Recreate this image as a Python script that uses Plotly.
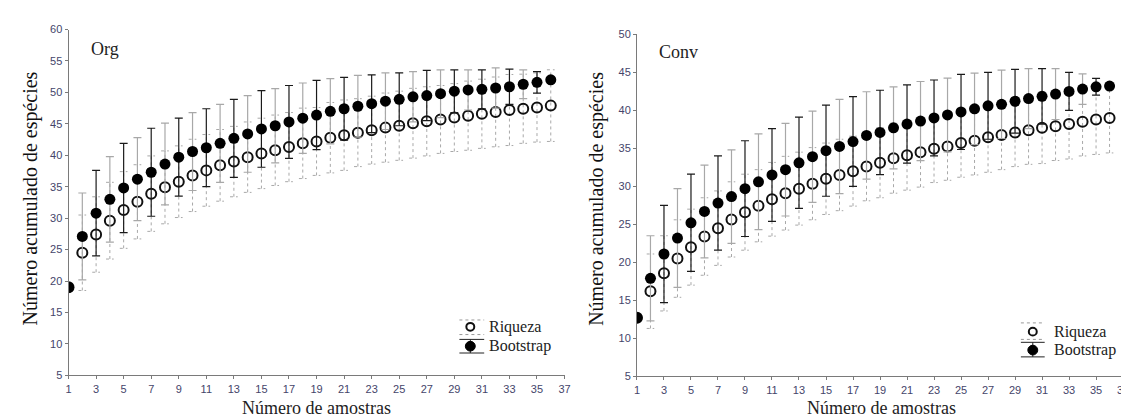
import plotly.graph_objects as go

# ---------------- data ----------------
amostras = list(range(1, 37))

org_boot = [19.0, 27.1, 30.8, 33.0, 34.8, 36.2, 37.3, 38.6, 39.7, 40.6, 41.2, 41.9,
            42.7, 43.4, 44.2, 44.7, 45.3, 45.9, 46.4, 47.0, 47.4, 47.8, 48.2, 48.6,
            48.9, 49.3, 49.5, 49.8, 50.2, 50.4, 50.5, 50.7, 50.9, 51.3, 51.6, 52.0]
org_boot_err = [0, 6.9, 6.8, 6.8, 7.1, 6.6, 7.0, 6.5, 6.2, 6.2, 6.2, 6.2,
                6.2, 6.1, 6.1, 5.9, 5.8, 5.6, 5.5, 5.2, 5.0, 4.9, 4.6, 4.5,
                4.2, 4.0, 4.0, 3.8, 3.4, 3.2, 3.1, 3.2, 2.8, 2.3, 1.7, 0]
org_rich = [19.0, 24.5, 27.4, 29.6, 31.3, 32.6, 33.9, 34.9, 35.8, 36.8, 37.6, 38.4,
            39.0, 39.7, 40.3, 40.8, 41.3, 41.9, 42.2, 42.8, 43.2, 43.6, 44.0, 44.4,
            44.7, 45.1, 45.4, 45.7, 46.0, 46.3, 46.6, 46.9, 47.2, 47.4, 47.6, 47.9]
org_rich_err = [0, 6.0, 6.0, 6.1, 6.1, 5.9, 6.0, 5.8, 5.7, 5.75, 5.7, 5.7,
                5.6, 5.6, 5.6, 5.6, 5.5, 5.6, 5.4, 5.6, 5.6, 5.4, 5.4, 5.5,
                5.5, 5.55, 5.5, 5.4, 5.4, 5.5, 5.5, 5.55, 5.65, 5.5, 5.5, 5.7]

conv_boot = [12.7, 17.9, 21.1, 23.2, 25.2, 26.7, 27.8, 28.65, 29.7, 30.6, 31.5, 32.2,
             33.1, 33.9, 34.7, 35.25, 35.9, 36.7, 37.1, 37.7, 38.2, 38.6, 39.0, 39.4,
             39.8, 40.2, 40.6, 40.8, 41.2, 41.55, 41.85, 42.15, 42.5, 42.8, 43.1, 43.2]
conv_boot_err = [0, 5.6, 6.4, 6.5, 6.4, 6.1, 6.2, 6.15, 6.3, 6.3, 6.1, 6.1,
                 6.0, 6.0, 6.0, 6.2, 5.9, 5.75, 5.55, 5.4, 5.15, 5.2, 5.0, 4.85,
                 4.95, 4.7, 4.4, 4.5, 4.2, 3.95, 3.65, 3.35, 2.5, 2.0, 1.1, 0]
conv_rich = [12.7, 16.2, 18.55, 20.5, 22.0, 23.4, 24.5, 25.65, 26.6, 27.45, 28.3, 29.1,
             29.7, 30.35, 31.0, 31.5, 32.0, 32.6, 33.1, 33.7, 34.1, 34.5, 34.95, 35.25,
             35.7, 36.0, 36.45, 36.75, 37.1, 37.4, 37.7, 37.9, 38.2, 38.5, 38.8, 39.0]
conv_rich_err = [0, 4.9, 4.95, 5.1, 5.0, 5.1, 4.9, 4.95, 5.0, 4.75, 4.85, 4.85,
                 4.8, 4.75, 4.7, 4.7, 4.6, 4.5, 4.6, 4.6, 4.6, 4.6, 4.45, 4.45,
                 4.5, 4.5, 4.6, 4.55, 4.5, 4.5, 4.7, 4.5, 4.6, 4.5, 4.6, 4.6]

x_ticks = list(range(1, 38, 2))
panel_titles = ["Org", "Conv"]
legend_names = ["Riqueza", "Bootstrap"]
x_title = "Número de amostras"
y_title = "Número acumulado de espécies"

# ---------------- figure ----------------
W, H = 1129, 419
SERIF = "Liberation Serif, Times New Roman, serif"
SANS = "Liberation Sans, Arial, sans-serif"
TICK_COLOR = "#45456a"

fig = go.Figure()


def px_x(p):
    return p / W


def px_y(p):
    return 1 - p / H


def add_panel(xa, ya, rich, rich_err, boot, boot_err):
    # dotted error bars for Riqueza
    xs, ys = [], []
    cap = 0.28
    for xv, v, e in zip(amostras, rich, rich_err):
        if e <= 0:
            continue
        lo, hi = v - e, v + e
        xs += [xv, xv, None, xv - cap, xv + cap, None, xv - cap, xv + cap, None]
        ys += [lo, hi, None, lo, lo, None, hi, hi, None]
    fig.add_trace(go.Scatter(x=xs, y=ys, mode="lines", xaxis=xa, yaxis=ya,
                             line=dict(color="#a8a8a8", width=1, dash="dot"),
                             showlegend=False, hoverinfo="skip"))
    # Riqueza markers
    fig.add_trace(go.Scatter(x=amostras, y=rich, mode="markers", xaxis=xa, yaxis=ya,
                             name=legend_names[0], showlegend=False,
                             marker=dict(symbol="circle-open", size=10, color="#111",
                                         line=dict(width=2, color="#111"))))
    # Bootstrap error bars, alternating rendering tone
    for start, col in ((0, "#1a1a1a"), (1, "#a8a8a8")):
        idx = list(range(start, len(amostras), 2))
        fig.add_trace(go.Scatter(
            x=[amostras[i] for i in idx], y=[boot[i] for i in idx],
            mode="markers", xaxis=xa, yaxis=ya, showlegend=False,
            marker=dict(size=1, color="rgba(0,0,0,0)"), hoverinfo="skip",
            error_y=dict(type="data", array=[boot_err[i] for i in idx],
                         visible=True, color=col, thickness=1.2, width=4)))
    fig.add_trace(go.Scatter(x=amostras, y=boot, mode="markers", xaxis=xa, yaxis=ya,
                             name=legend_names[1], showlegend=False,
                             marker=dict(symbol="circle", size=11, color="#000")))


add_panel("x", "y", org_rich, org_rich_err, org_boot, org_boot_err)
add_panel("x2", "y2", conv_rich, conv_rich_err, conv_boot, conv_boot_err)

axis_common = dict(showgrid=False, zeroline=False, showline=True, linecolor="#7a7a7a",
                   linewidth=1, ticks="outside", ticklen=3, tickcolor="#7a7a7a",
                   tickfont=dict(family=SANS, size=11, color=TICK_COLOR))

fig.update_layout(
    width=W, height=H, margin=dict(l=0, r=0, t=0, b=0),
    paper_bgcolor="white", plot_bgcolor="white", showlegend=False,
    xaxis=dict(domain=[px_x(58), px_x(558)], range=[1, 37], tickvals=x_ticks,
               anchor="y", **axis_common),
    yaxis=dict(domain=[px_y(372), px_y(16)], range=[5, 60], dtick=5, tick0=5,
               anchor="x", **axis_common),
    xaxis2=dict(domain=[px_x(631), px_x(1121)], range=[1, 37], tickvals=x_ticks,
                anchor="y2", **axis_common),
    yaxis2=dict(domain=[px_y(373), px_y(21)], range=[5, 50], dtick=5, tick0=5,
                anchor="x2", **axis_common),
)

annotations = []
shapes = []

# axis titles and panel labels
for cx, ty in ((308, 406), (877, 406)):
    annotations.append(dict(x=px_x(cx), y=px_y(ty), xref="paper", yref="paper",
                            text=x_title, showarrow=False, xanchor="center",
                            yanchor="middle", font=dict(family=SERIF, size=18, color="#222")))
for cx, cy in ((20, 190), (590, 190)):
    annotations.append(dict(x=px_x(cx), y=px_y(cy), xref="paper", yref="paper",
                            text=y_title, showarrow=False, textangle=-90,
                            xanchor="center", yanchor="middle",
                            font=dict(family=SERIF, size=20, color="#111")))
for (lx, ly), t in zip(((79, 36), (651, 39)), panel_titles):
    annotations.append(dict(x=px_x(lx), y=px_y(ly), xref="paper", yref="paper",
                            text=t, showarrow=False, xanchor="left", yanchor="middle",
                            font=dict(family=SERIF, size=18, color="#222")))

# manual legends
legends = [
    dict(mx=463, x0=452, x1=477, tx=480, ry=322, by=342, rt=315, rb=330, bt=335, bb=349),
    dict(mx=1030, x0=1018, x1=1042, tx=1049, ry=327, by=346, rt=318, rb=335, bt=338, bb=353),
]
for L in legends:
    for yy in (L["rt"], L["rb"]):
        shapes.append(dict(type="line", xref="paper", yref="paper",
                           x0=px_x(L["x0"]), x1=px_x(L["x1"]), y0=px_y(yy), y1=px_y(yy),
                           line=dict(color="#999", width=1, dash="dot")))
    shapes.append(dict(type="circle", xref="paper", yref="paper",
                       x0=px_x(L["mx"] - 4), x1=px_x(L["mx"] + 4),
                       y0=px_y(L["ry"] + 4), y1=px_y(L["ry"] - 4),
                       line=dict(color="#111", width=2), fillcolor="white"))
    for yy in (L["bt"], L["bb"]):
        shapes.append(dict(type="line", xref="paper", yref="paper",
                           x0=px_x(L["x0"]), x1=px_x(L["x1"]), y0=px_y(yy), y1=px_y(yy),
                           line=dict(color="#222", width=1)))
    shapes.append(dict(type="line", xref="paper", yref="paper",
                       x0=px_x(L["mx"]), x1=px_x(L["mx"]), y0=px_y(L["bt"]), y1=px_y(L["bb"]),
                       line=dict(color="#222", width=1)))
    shapes.append(dict(type="circle", xref="paper", yref="paper",
                       x0=px_x(L["mx"] - 5), x1=px_x(L["mx"] + 5),
                       y0=px_y(L["by"] + 5), y1=px_y(L["by"] - 5),
                       line=dict(color="#000", width=1), fillcolor="#000"))
    for name, yy in zip(legend_names, (L["ry"], L["by"])):
        annotations.append(dict(x=px_x(L["tx"]), y=px_y(yy), xref="paper", yref="paper",
                                text=name, showarrow=False, xanchor="left",
                                yanchor="middle",
                                font=dict(family=SERIF, size=16, color="#222")))

fig.update_layout(annotations=annotations, shapes=shapes)
fig.write_html("out.html")
